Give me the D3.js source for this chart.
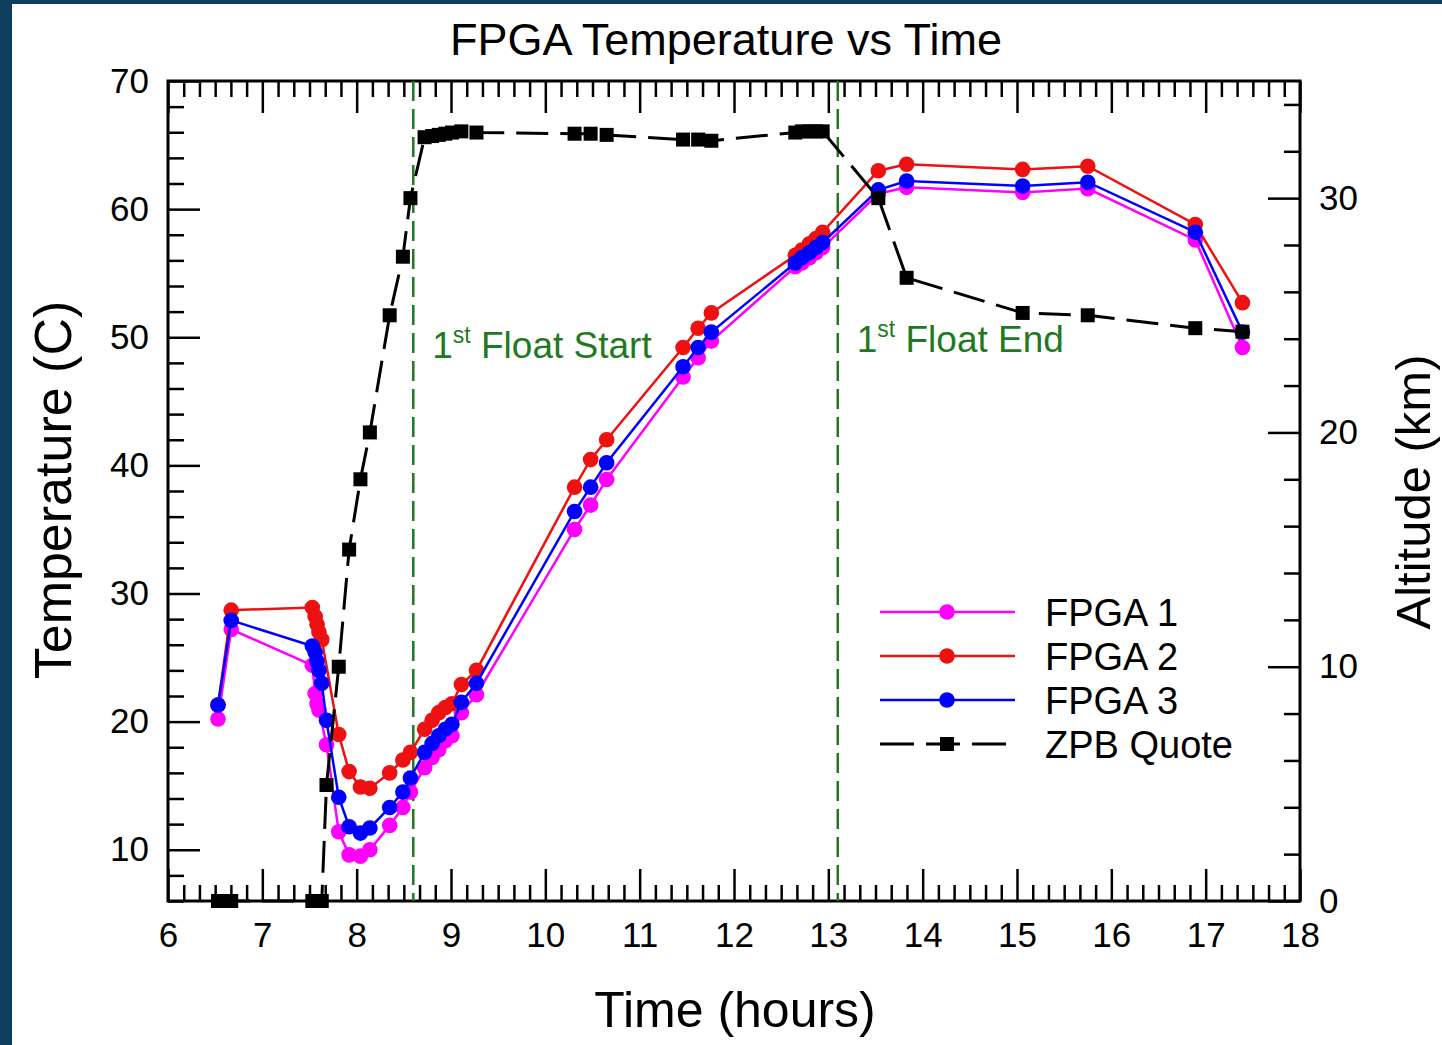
<!DOCTYPE html>
<html>
<head>
<meta charset="utf-8">
<script src="https://cdn.jsdelivr.net/npm/d3@7/dist/d3.min.js"></script>
<style>
  html, body { margin: 0; padding: 0; background: #0f3d5e; }
  svg { display: block; }
  text { font-family: "Liberation Sans", Arial, sans-serif; fill: #000; }
</style>
</head>
<body>
<svg id="chart" width="1442" height="1045"></svg>
<script>
// Flight log: time of each sample (hours)
const hours = [6.53, 6.67, 7.53, 7.56, 7.58, 7.60, 7.63, 7.68, 7.81, 7.92,
               8.04, 8.14, 8.35, 8.49, 8.57, 8.72, 8.80, 8.87, 8.94, 9.01,
               9.11, 9.27, 10.31, 10.48, 10.65, 11.46, 11.62, 11.76, 12.65, 12.72,
               12.80, 12.87, 12.94, 13.53, 13.83, 15.06, 15.75, 16.89, 17.39];

// FPGA temperatures (C); null = no reading at that time
const fpga1 = [20.2, 27.2, 24.4, 22.2, 21.4, 20.9, null, 18.2, 11.4, 9.6,
               9.5, 10.0, 11.9, 13.3, 14.5, 16.4, 17.2, 17.8, 18.5, 18.9,
               20.7, 22.1, 35.0, 36.9, 38.9, 46.9, 48.4, 49.7, 55.5, 55.8,
               56.2, 56.6, 57.0, 61.2, 61.7, 61.3, 61.6, 57.6, 49.2];
const fpga2 = [21.3, 28.7, 28.9, 28.2, 27.6, 27.0, 26.4, null, 19.0, 16.1,
               14.9, 14.8, 16.0, 17.0, 17.6, 19.4, 20.1, 20.7, 21.1, 21.4,
               22.9, 24.0, 38.3, 40.45, 42.0, 49.2, 50.7, 51.9, 56.4, 56.8,
               57.3, 57.7, 58.2, 63.0, 63.5, 63.1, 63.35, 58.8, 52.7];
const fpga3 = [21.3, 27.9, 25.9, 25.4, 24.7, 24.0, 23.0, 20.1, 14.1, 11.8,
               11.3, 11.7, 13.3, 14.5, 15.6, 17.6, 18.3, 18.9, 19.4, 19.8,
               21.5, 23.0, 36.4, 38.3, 40.2, 47.7, 49.2, 50.4, 55.8, 56.2,
               56.6, 57.0, 57.4, 61.5, 62.2, 61.8, 62.1, 58.2, 50.4];

// Balloon altitude (km)
const zpbAltitude = [0, 0, 0, 0, 0, 0, 0, 4.95, 10.0, 15.0,
                     18.0, 20.0, 25.0, 27.5, 30.0, 32.6, 32.65, 32.7, 32.75, 32.8,
                     32.85, 32.8, 32.75, 32.75, 32.7, 32.5, 32.5, 32.45, 32.8, 32.85,
                     32.85, 32.85, 32.85, 30.0, 26.6, 25.1, 25.0, 24.45, 24.3];

// Float phase markers (hours)
const floatStart = 8.6;
const floatEnd = 13.1;

// Axis ticks
const xTicks = [6, 7, 8, 9, 10, 11, 12, 13, 14, 15, 16, 17, 18];
const tempTicks = [10, 20, 30, 40, 50, 60, 70];
const altTicks = [0, 10, 20, 30];

const seriesNames = ["FPGA 1", "FPGA 2", "FPGA 3", "ZPB Quote"];
const seriesColors = ["#ff00ff", "#ee1111", "#0000ff", "#000000"];

const svg = d3.select("#chart");
const W = 1442, H = 1045;
const plot = { left: 168, right: 1300, top: 81, bottom: 901 };

// white page inside the navy border
svg.append("rect").attr("x", 12).attr("y", 4).attr("width", W - 12).attr("height", H - 4).attr("fill", "#fff");

const x = d3.scaleLinear().domain([6, 18]).range([plot.left, plot.right]);
const yT = d3.scaleLinear().domain([6, 70]).range([plot.bottom, plot.top]);
const yA = d3.scaleLinear().domain([0, 35]).range([plot.bottom, plot.top]);

const tickFont = "35px";
const majorLen = 32, minorLen = 16;

function styleAxis(g) {
  g.select(".domain").remove();
  g.selectAll(".tick line").attr("stroke", "#000").attr("stroke-width", 2.5);
  g.selectAll(".tick text").style("font-size", tickFont).attr("fill", "#000");
}

// minor tick positions
const xMinor = d3.range(0, 73).map(i => 6 + i / 6).filter((v, i) => i % 6 !== 0);
const tMinor = d3.range(6, 71, 2).filter(v => v % 10 !== 0);
const aMinor = d3.range(0, 36, 2).filter(v => v % 10 !== 0);

// bottom axis
svg.append("g").attr("transform", `translate(0,${plot.bottom})`)
  .call(d3.axisBottom(x).tickValues(xTicks).tickSize(-majorLen).tickPadding(21).tickFormat(d3.format("d")))
  .call(styleAxis);
svg.append("g").attr("transform", `translate(0,${plot.bottom})`)
  .call(d3.axisBottom(x).tickValues(xMinor).tickSize(-minorLen).tickFormat(""))
  .call(styleAxis);
// top axis
svg.append("g").attr("transform", `translate(0,${plot.top})`)
  .call(d3.axisTop(x).tickValues(xTicks).tickSize(-majorLen).tickFormat(""))
  .call(styleAxis);
svg.append("g").attr("transform", `translate(0,${plot.top})`)
  .call(d3.axisTop(x).tickValues(xMinor).tickSize(-minorLen).tickFormat(""))
  .call(styleAxis);
// left axis (temperature)
svg.append("g").attr("transform", `translate(${plot.left},0)`)
  .call(d3.axisLeft(yT).tickValues(tempTicks).tickSize(-majorLen).tickPadding(19).tickFormat(d3.format("d")))
  .call(styleAxis);
svg.append("g").attr("transform", `translate(${plot.left},0)`)
  .call(d3.axisLeft(yT).tickValues(tMinor).tickSize(-minorLen).tickFormat(""))
  .call(styleAxis);
// right axis (altitude)
svg.append("g").attr("transform", `translate(${plot.right},0)`)
  .call(d3.axisRight(yA).tickValues(altTicks).tickSize(-majorLen).tickPadding(19).tickFormat(d3.format("d")))
  .call(styleAxis);
svg.append("g").attr("transform", `translate(${plot.right},0)`)
  .call(d3.axisRight(yA).tickValues(aMinor).tickSize(-minorLen).tickFormat(""))
  .call(styleAxis);

// plot frame
svg.append("rect")
  .attr("x", plot.left).attr("y", plot.top)
  .attr("width", plot.right - plot.left).attr("height", plot.bottom - plot.top)
  .attr("fill", "none").attr("stroke", "#000").attr("stroke-width", 3);

// float phase markers
const green = "#1f7a1f";
[floatStart, floatEnd].forEach(t => {
  svg.append("line")
    .attr("x1", x(t)).attr("x2", x(t))
    .attr("y1", plot.top).attr("y2", plot.bottom)
    .attr("stroke", green).attr("stroke-width", 2.5)
    .attr("stroke-dasharray", "20,8");
});

function floatLabel(t, yPix, label) {
  const txt = svg.append("text")
    .attr("x", x(t) + 19).attr("y", yPix)
    .style("font-size", "37px").attr("fill", green).style("fill", green);
  txt.append("tspan").text("1");
  txt.append("tspan").attr("dy", -15).style("font-size", "23px").text("st");
  txt.append("tspan").attr("dy", 15).text(" " + label);
}
floatLabel(floatStart, 358, "Float Start");
floatLabel(floatEnd, 352, "Float End");

// temperature series
const tempSeries = [fpga1, fpga2, fpga3];
const tempLine = d3.line().x(d => x(d.t)).y(d => yT(d.v));
tempSeries.forEach((vals, i) => {
  const pts = hours.map((t, j) => ({ t, v: vals[j] })).filter(d => d.v !== null);
  const g = svg.append("g");
  g.append("path").datum(pts).attr("d", tempLine)
    .attr("fill", "none").attr("stroke", seriesColors[i]).attr("stroke-width", 2.5);
  g.selectAll("circle").data(pts).join("circle")
    .attr("cx", d => x(d.t)).attr("cy", d => yT(d.v)).attr("r", 7.8)
    .attr("fill", seriesColors[i]);
});

// altitude series
const altPts = hours.map((t, j) => ({ t, v: zpbAltitude[j] }));
const altLine = d3.line().x(d => x(d.t)).y(d => yA(d.v));
const ga = svg.append("g");
ga.append("path").datum(altPts).attr("d", altLine)
  .attr("fill", "none").attr("stroke", "#000").attr("stroke-width", 3)
  .attr("stroke-dasharray", "32,12");
const sq = 14;
ga.selectAll("rect").data(altPts).join("rect")
  .attr("x", d => x(d.t) - sq / 2).attr("y", d => yA(d.v) - sq / 2)
  .attr("width", sq).attr("height", sq).attr("fill", "#000");

// legend
const legend = svg.append("g");
const legY = d3.scalePoint().domain(seriesNames).range([612, 744]);
seriesNames.forEach((name, i) => {
  const yy = legY(name);
  const row = legend.append("g");
  if (i < 3) {
    row.append("line").attr("x1", 880).attr("x2", 1015).attr("y1", yy).attr("y2", yy)
      .attr("stroke", seriesColors[i]).attr("stroke-width", 2.5);
    row.append("circle").attr("cx", 947).attr("cy", yy).attr("r", 7.8).attr("fill", seriesColors[i]);
  } else {
    row.append("line").attr("x1", 880).attr("x2", 1015).attr("y1", yy).attr("y2", yy)
      .attr("stroke", "#000").attr("stroke-width", 3).attr("stroke-dasharray", "34,12");
    row.append("rect").attr("x", 947 - sq / 2).attr("y", yy - sq / 2).attr("width", sq).attr("height", sq).attr("fill", "#000");
  }
  row.append("text").attr("x", 1045).attr("y", yy).attr("dy", "0.36em")
    .style("font-size", "38px").text(name);
});

// titles
svg.append("text").attr("x", 726).attr("y", 55).attr("text-anchor", "middle")
  .style("font-size", "45px").text("FPGA Temperature vs Time");
svg.append("text").attr("x", 735).attr("y", 1027).attr("text-anchor", "middle")
  .style("font-size", "50px").text("Time (hours)");
svg.append("text").attr("transform", "translate(71,490) rotate(-90)").attr("text-anchor", "middle")
  .style("font-size", "52px").text("Temperature (C)");
svg.append("text").attr("transform", "translate(1430,492) rotate(-90)").attr("text-anchor", "middle")
  .style("font-size", "49px").text("Altitude (km)");
</script>
</body>
</html>
